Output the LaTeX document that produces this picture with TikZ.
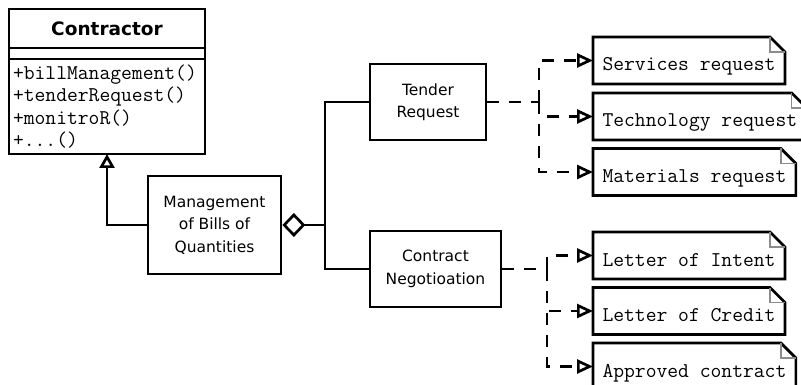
\documentclass[tikz,border=0pt]{standalone}
\usepackage{fontspec}
\setmainfont{DejaVu Sans}
\definecolor{foldGray}{HTML}{8C8C8C}
\usetikzlibrary{arrows.meta, positioning}

\begin{document}
\begin{tikzpicture}[
  x=1pt, y=-1pt,
  line width=2.7pt,
  box/.style={draw, align=center, inner sep=0pt, font=\fontsize{15.5}{22.5}\selectfont},
  clsbox/.style={draw, minimum width=196pt, inner sep=0pt, outer sep=0pt},
  note/.style={anchor=west, minimum height=47pt, inner xsep=9.5pt, inner ysep=0pt, outer sep=0pt,
    text height=22pt, text depth=1pt, font=\ttfamily\fontsize{21}{22.5}\selectfont},
  dep/.style={dash pattern=on 12pt off 10pt},
  realize/.style={dep, -{Triangle[open, length=16pt, width=14pt]}},
  gen/.style={-{Triangle[open, length=14pt, width=15pt]}},
  agg/.style={{Diamond[open, length=23pt, width=24pt]}-}
]
  \useasboundingbox (0,0) rectangle (801,385);
  \clip (0,0) rectangle (801,385);

  % Class: Contractor
  \node[clsbox, minimum height=39pt, font=\bfseries\fontsize{18.5}{22}\selectfont] (cls) at (107,28.5) {Contractor};
  \node[clsbox, minimum height=11pt, below=0pt of cls] (clsAttr) {};
  \node[clsbox, minimum height=95pt, below=0pt of clsAttr, inner xsep=4pt, text width=188pt, align=left,
        font=\ttfamily\fontsize{21}{22.5}\selectfont] (clsOps)
        {+billManagement()\\+tenderRequest()\\+monitroR()\\+...()};

  % Middle: management and its parts
  \node[box, minimum width=133pt, minimum height=98pt] (mgmt) at (214.5,225) {Management\\of Bills of\\Quantities};
  \node[box, minimum width=116pt, minimum height=76pt] (tr)   at (428,102)   {Tender\\Request};
  \node[box, minimum width=131pt, minimum height=76pt] (cn)   at (435.5,269) {Contract\\Negotioation};

  % Right: documents
  \node[note] (n1) at (593,60.5)  {Services request};
  \node[note] (n2) at (593,116.5) {Technology request};
  \node[note] (n3) at (593,172)   {Materials request};
  \node[note] (n4) at (593,255.5) {Letter of Intent};
  \node[note] (n5) at (593,311)   {Letter of Credit};
  \node[note] (n6) at (593,366.5) {Approved contract};

  \foreach \n in {n1,n2,n3,n4,n5,n6} {
    \draw (\n.south west) -- (\n.north west) -- ([xshift=-15pt]\n.north east)
      -- ([yshift=-15pt]\n.north east) -- (\n.south east) -- cycle;
    \draw[foldGray, line width=1.4pt] ([xshift=-15pt]\n.north east) |- ([yshift=-15pt]\n.north east);
  }

  \coordinate (jn) at (325,225);
  \coordinate (tj) at (539,102);
  \coordinate (cj) at (547,269);

  \draw[gen] (mgmt.west) -| (clsOps.south);
  \draw[agg] (mgmt.east) -- (jn);
  \draw (jn) |- (tr.west);
  \draw (jn) |- (cn.west);

  \draw[dep] (tr.east) -- (tj);
  \foreach \n in {n1,n2,n3}
    \draw[realize] (tj) |- (\n.west);
  \draw[dep] (cn.east) -- (cj);
  \foreach \n in {n4,n5,n6}
    \draw[realize] (cj) |- (\n.west);
\end{tikzpicture}
\end{document}
